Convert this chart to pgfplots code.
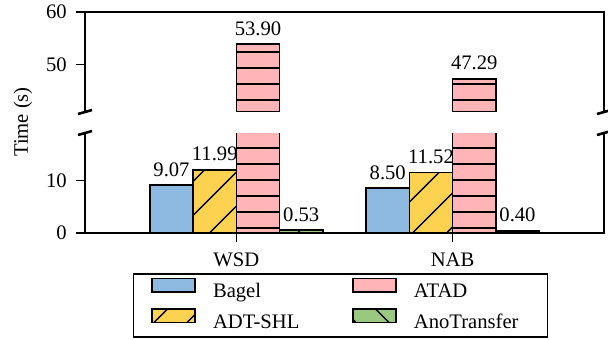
\documentclass[border=0pt]{standalone}
\usepackage{fontspec}
\setmainfont{Liberation Serif}
\usepackage{pgfplots}
\pgfplotsset{compat=1.18}
\usetikzlibrary{patterns.meta}

\definecolor{cBagel}{RGB}{142,186,226}
\definecolor{cADT}{RGB}{253,210,80}
\definecolor{cATAD}{RGB}{255,181,184}
\definecolor{cAno}{RGB}{154,200,126}

\pgfplotsset{
  panel/.style={
    scale only axis, width=519bp, height=100bp,
    xmin=-0.7, xmax=1.7,
    ybar, bar width=0.2,
    axis line style={draw=none},
    tick style={black, line width=1.6bp},
    major tick length=9bp,
    tick align=outside,
    ytick pos=left,
    yticklabel style={inner sep=0pt, xshift=-9bp},
    xticklabel style={inner sep=0pt, yshift=-11bp},
    /pgf/number format/assume math mode=true,
  },
  sBagel/.style={draw=black, line width=1.6bp, fill=cBagel},
  sADT/.style={draw=black, line width=1.6bp, fill=cADT,
    postaction={pattern={Lines[angle=45,distance=24bp,line width=1.6bp]}, pattern color=black}},
  sATAD/.style={draw=black, line width=1.6bp, fill=cATAD,
    postaction={pattern={Lines[angle=0,distance=16bp,line width=1.6bp]}, pattern color=black}},
  sAno/.style={draw=black, line width=1.6bp, fill=cAno,
    postaction={pattern={Lines[angle=-45,distance=24bp,line width=1.6bp]}, pattern color=black}},
  vlabel/.style={
    nodes near coords={\pgfmathprintnumber[fixed,fixed zerofill,precision=2]{\pgfplotspointmeta}},
    every node near coord/.append style={anchor=base, inner sep=0pt, yshift=9bp, text=black},
  },
  swatch/.style={legend image code/.code={\draw[##1] (0bp,0.5bp) rectangle (43bp,14bp);}},
}

\begin{document}
\begin{tikzpicture}[font=\fontsize{20.7}{24}\selectfont]
\useasboundingbox (-85bp,-107bp) rectangle (523bp,233bp);
% lower panel: 0 to 19 s
\begin{axis}[panel, name=bot, at={(0,0)}, anchor=south west,
  ymin=0, ymax=19, ytick={0,10},
  xtick={0,1}, xticklabels={WSD,NAB}, xtick pos=bottom,
  legend columns=2,
  legend style={at={(0.4923,-0.40)}, anchor=north, draw=black, line width=1.6bp,
    inner xsep=18bp, inner ysep=4bp, row sep=6bp,
    nodes={inner sep=0pt, text height=15bp, text depth=4.5bp},
    /tikz/every odd column/.append style={column sep=17bp},
    /tikz/column 2/.append style={column sep=53bp}},
  legend cell align=left,
]
\addplot[sBagel, bar shift=-0.3, vlabel, forget plot] coordinates {(0,9.07) (1,8.50)};
\addplot[sADT, bar shift=-0.1, vlabel, forget plot] coordinates {(0,11.99) (1,11.52)};
\addplot[sATAD, bar shift=0.1, forget plot] coordinates {(0,53.90) (1,47.29)};
\addplot[sAno, bar shift=0.3, vlabel, forget plot] coordinates {(0,0.53) (1,0.40)};
\addlegendimage{sBagel, swatch}
\addlegendentry{Bagel}
\addlegendimage{sATAD, swatch}
\addlegendentry{ATAD}
\addlegendimage{sADT, swatch}
\addlegendentry{ADT-SHL}
\addlegendimage{sAno, swatch}
\addlegendentry{AnoTransfer\rule{11bp}{0pt}}
\end{axis}
% upper panel: 41 to 60 s; only ATAD reaches it, and the bars run on below the break
\begin{scope}
\clip (-84bp,121.85bp) rectangle (522bp,233bp);
\begin{axis}[panel, name=top, at={(0,121bp)}, anchor=south west,
  ymin=41, ymax=60, ytick={50,60}, xtick=\empty,
]
\addplot[sATAD, bar shift=0.1, vlabel] coordinates {(0,53.90) (1,47.29)};
\end{axis}
\end{scope}
% spines
\draw[line width=1.6bp] (top.south west) -- (top.north west) -- (top.north east) -- (top.south east);
\draw[line width=1.6bp] (bot.north west) -- (bot.south west) -- (bot.south east) -- (bot.north east);
% break marks
\foreach \a in {top.south west, top.south east, bot.north west, bot.north east}
  \draw[line width=2.6bp] ([shift={(-7bp,-2bp)}]\a) -- ++(14bp,4bp);
% shared y label
\node[rotate=90] at ([shift={(-62bp,111bp)}]bot.south west) {Time (s)};
\end{tikzpicture}
\end{document}
